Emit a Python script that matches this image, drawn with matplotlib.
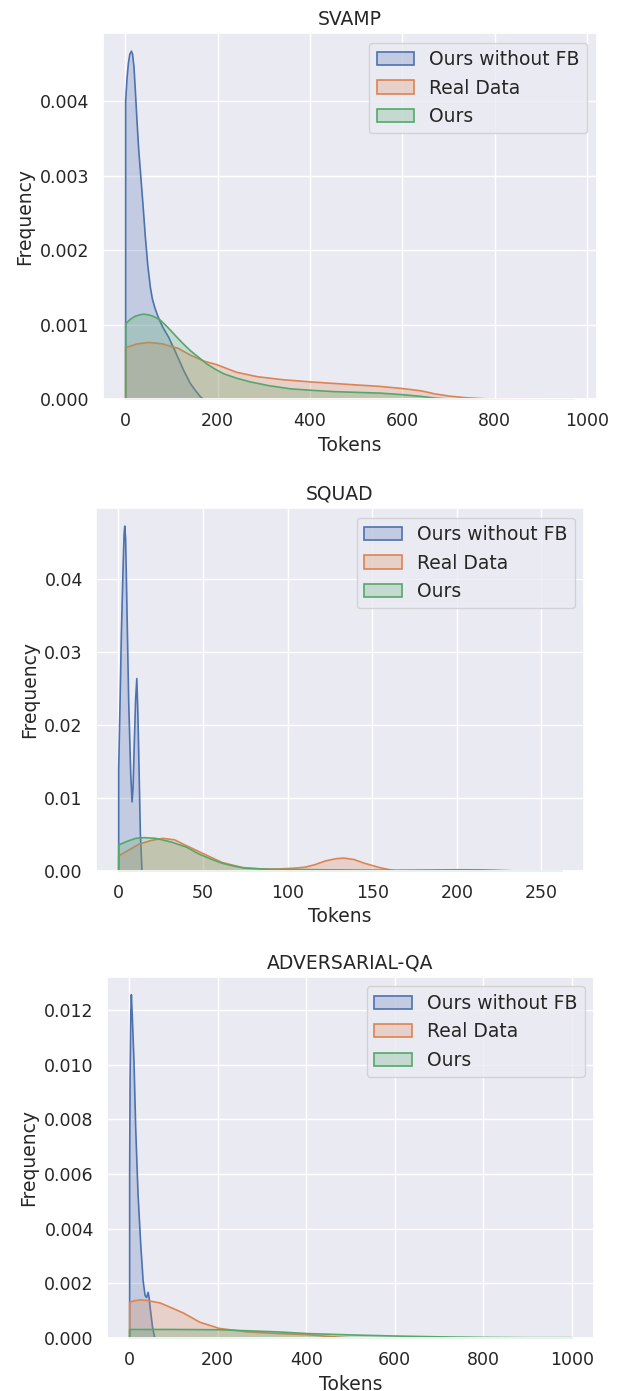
import matplotlib
matplotlib.use("Agg")
import matplotlib.pyplot as plt
import seaborn as sns
from matplotlib.patches import Patch
from matplotlib.colors import to_rgba

sns.set_theme(style="darkgrid")
plt.rcParams['font.family'] = ['DejaVu Sans']

ticksize = 12.5
labelsize = 13.5

names = ["Ours without FB", "Real Data", "Ours"]
colors = ["#4C72B0", "#DD8452", "#55A868"]

# SVAMP (token length densities)
svamp_nofb_x = [0, 3, 6, 9, 12.4, 15, 18, 21, 24.6, 28, 33, 38, 42.7, 48, 53.5, 58, 63, 68, 74,
                80, 93, 108, 126, 140, 151, 162, 170]
svamp_nofb_y = [0.00401, 0.00432, 0.00452, 0.00464, 0.00468, 0.00464, 0.00447, 0.00415, 0.00374,
                0.00338, 0.00298, 0.00258, 0.00218, 0.00180, 0.00151, 0.00135, 0.00124, 0.00115,
                0.00106, 0.00098, 0.00084, 0.00064, 0.00039, 0.00022, 0.000125, 0.00004, 0.0]
svamp_real_x = [0, 25, 50, 80, 114, 140, 169, 198, 240, 285, 340, 400, 450, 498, 550, 601, 640,
                669, 700, 738, 800, 850, 900, 972]
svamp_real_y = [0.0007, 0.00075, 0.00077, 0.00075, 0.00069, 0.0006, 0.00052, 0.00047, 0.00037,
                0.00031, 0.00027, 0.00024, 0.00022, 0.0002, 0.00018, 0.00015, 0.00012, 0.00008,
                0.00005, 0.000027, 0.000005, 0.000002, 0.000001, 0.0]
svamp_ours_x = [0, 10, 20, 30, 39, 50, 60, 75, 90, 111, 125, 140, 158, 176, 194, 212, 240, 270,
                310, 357, 404, 450, 500, 550, 601, 640, 669, 712, 740]
svamp_ours_y = [0.00102, 0.00108, 0.00112, 0.00114, 0.00115, 0.00114, 0.00112, 0.00107, 0.00098,
                0.00084, 0.00075, 0.00066, 0.00057, 0.00048, 0.00041, 0.00035, 0.00029, 0.00024,
                0.00019, 0.000147, 0.000127, 0.00011, 0.0001, 0.00009, 0.000068, 0.000045,
                0.000023, 0.000005, 0.0]

# SQUAD
squad_nofb_x = [0, 0.8, 1.6, 2.6, 3.2, 3.6, 4.1, 4.8, 5.9, 7.1, 7.9, 8.5, 9.1, 10.0, 10.7, 11.3,
                11.8, 12.8, 13.8]
squad_nofb_y = [0.014, 0.023, 0.0326, 0.0417, 0.0462, 0.0473, 0.0455, 0.0371, 0.0234, 0.0134,
                0.0095, 0.0115, 0.0166, 0.0235, 0.0264, 0.022, 0.0166, 0.0052, 0.0]
squad_real_x = [0, 6, 12, 19, 26, 33, 40, 50, 61, 73, 85, 94, 103, 110, 116, 122, 128, 133, 139,
                145, 154, 163, 170]
squad_real_y = [0.0021, 0.0029, 0.0037, 0.0042, 0.0045, 0.0043, 0.0035, 0.0024, 0.0012, 0.0005,
                0.0003, 0.0003, 0.0004, 0.00055, 0.0009, 0.0014, 0.0017, 0.0018, 0.0016, 0.0011,
                0.0005, 0.00005, 0.0]
squad_ours_x = [0, 5, 10, 15, 22, 31, 40, 47, 54, 61, 68, 75, 90, 117, 140, 163, 185, 200, 215,
                222, 233, 248, 262]
squad_ours_y = [0.0036, 0.0041, 0.0045, 0.0046, 0.0045, 0.004, 0.0033, 0.0024, 0.0017, 0.0011,
                0.0007, 0.0004, 0.00025, 0.0002, 0.00016, 0.00014, 0.00017, 0.0002, 0.00018,
                0.00014, 0.00005, 0.00001, 0.0]

# ADVERSARIAL-QA
adv_nofb_x = [0, 1, 2.5, 3.9, 6, 9.8, 13.7, 18.9, 25, 30.4, 34.9, 38.5, 41.7, 44, 46.3, 51.8, 57]
adv_nofb_y = [0.006, 0.0095, 0.0118, 0.01258, 0.0118, 0.01015, 0.0077, 0.0053, 0.00346, 0.00212,
              0.00157, 0.0015, 0.00169, 0.0015, 0.00114, 0.00041, 0.0]
adv_real_x = [0, 10, 23.5, 40, 69, 95, 123, 158, 202, 266, 337, 402, 445, 489, 534]
adv_real_y = [0.00132, 0.00138, 0.00141, 0.00139, 0.0013, 0.00112, 0.00092, 0.0006, 0.00037,
              0.00024, 0.00018, 0.00014, 0.00008, 0.00003, 0.0]
adv_ours_x = [0, 100, 202, 270, 337, 402, 500, 600, 700, 800, 900, 1000]
adv_ours_y = [0.00033, 0.00033, 0.00032, 0.00028, 0.00024, 0.00018, 0.00013, 0.00009, 0.00006,
              0.00004, 0.00003, 0.00003]

panels = [
    ("SVAMP", [(svamp_nofb_x, svamp_nofb_y), (svamp_real_x, svamp_real_y), (svamp_ours_x, svamp_ours_y)]),
    ("SQUAD", [(squad_nofb_x, squad_nofb_y), (squad_real_x, squad_real_y), (squad_ours_x, squad_ours_y)]),
    ("ADVERSARIAL-QA", [(adv_nofb_x, adv_nofb_y), (adv_real_x, adv_real_y), (adv_ours_x, adv_ours_y)]),
]

# axes boxes in pixels: left, right, top, bottom
W, H = 618, 1391
boxes = [(102.7, 596.7, 33.3, 399.3),
         (96, 584, 508.3, 870.7),
         (107, 594, 977, 1338)]

fig = plt.figure(figsize=(W / 100, H / 100), dpi=100, facecolor='w')

for (title, series), (l, r, t, b) in zip(panels, boxes):
    ax = fig.add_axes([l / W, 1 - b / H, (r - l) / W, (b - t) / H])
    for (xs, ys), c in zip(series, colors):
        ax.fill_between(xs, ys, 0, facecolor=to_rgba(c, 0.25), edgecolor=c, linewidth=1.2)
    ax.set_ylim(bottom=0)
    ax.set_title(title, fontsize=labelsize)
    ax.set_xlabel("Tokens", fontsize=labelsize)
    ax.set_ylabel("Frequency", fontsize=labelsize)
    ax.tick_params(labelsize=ticksize)
    handles = [Patch(facecolor=to_rgba(c, 0.25), edgecolor=c, linewidth=1.2) for c in colors]
    ax.legend(handles, names, loc="upper right", fontsize=labelsize)

fig.savefig("out.png", dpi=100)
